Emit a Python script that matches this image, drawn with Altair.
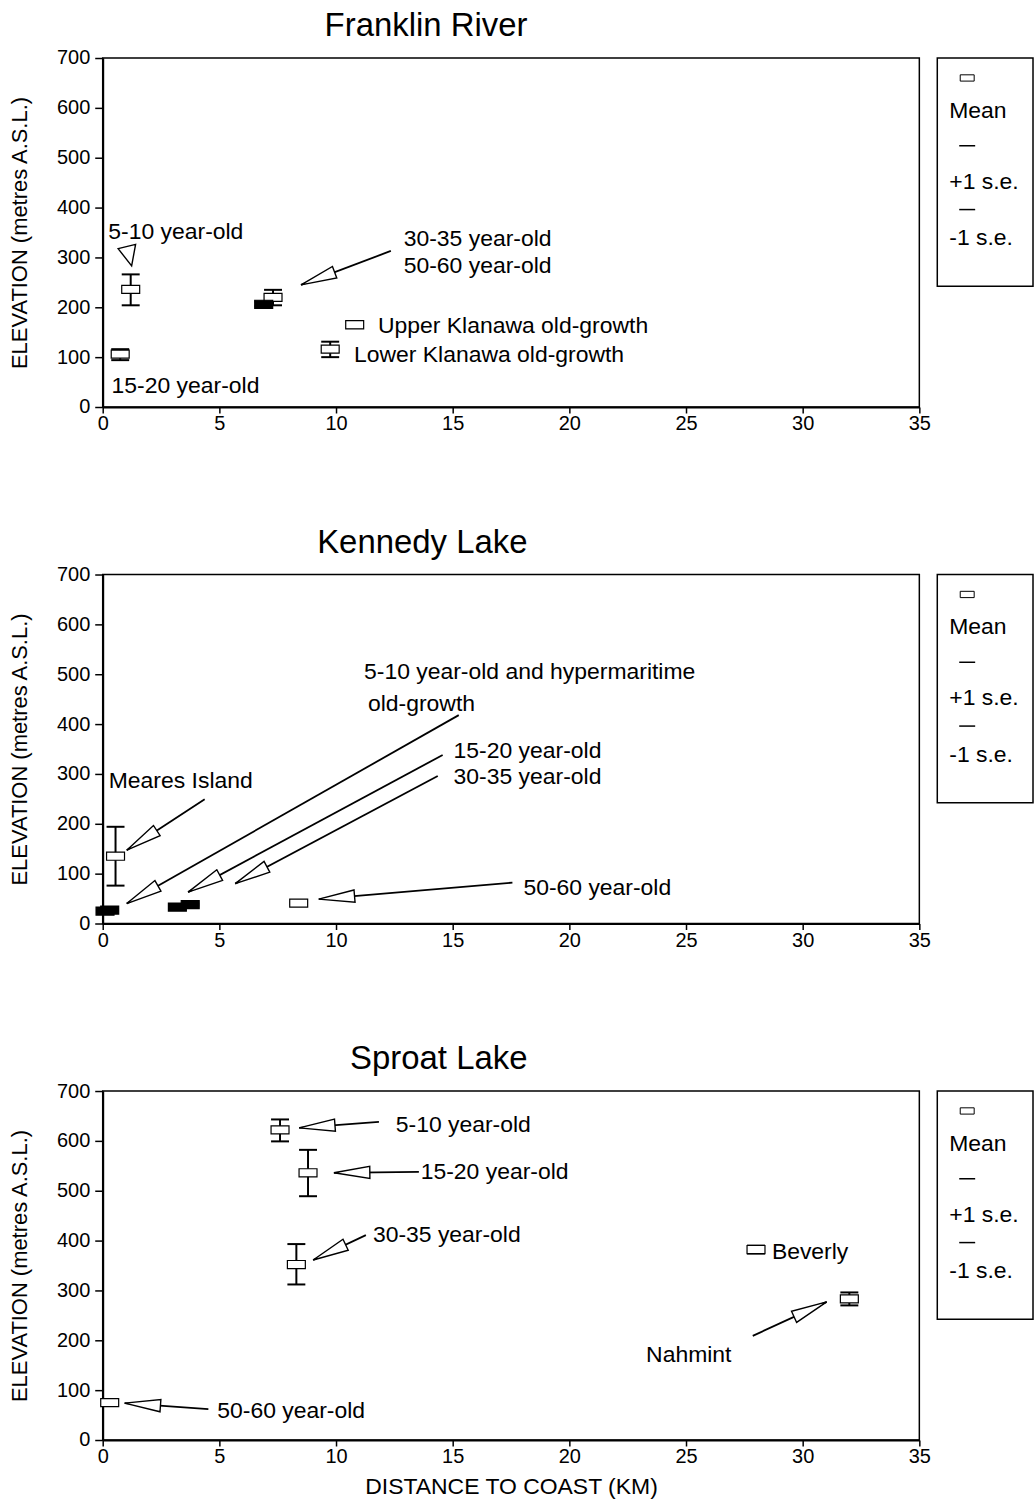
import math
import altair as alt
import pandas as pd

FONT = "Liberation Sans"
PLOT_W, PLOT_H = 819, 350
X_MAX, Y_MAX = 35, 700

x_ticks = [0, 5, 10, 15, 20, 25, 30, 35]
y_ticks = [0, 100, 200, 300, 400, 500, 600, 700]
legend_labels = ["Mean", "+1 s.e.", "-1 s.e."]

# ---------------- Franklin River ----------------
fr_site = ["5-10 year-old", "15-20 year-old", "30-35 year-old", "50-60 year-old",
           "Upper Klanawa old-growth", "Lower Klanawa old-growth"]
fr_dist = [1.2, 0.75, 7.3, 6.9, 10.8, 9.75]
fr_mean = [236, 106, 220, 206, 165, 116]
fr_lo = [204, 94, 204, 202, 159, 100]
fr_hi = [266, 116, 235, 211, 171, 131]
fr_solid = [False, False, False, True, False, False]

fr_text = ["5-10 year-old", "15-20 year-old", "30-35 year-old", "50-60 year-old",
           "Upper Klanawa old-growth", "Lower Klanawa old-growth"]
fr_text_x = [0.24, 0.38, 12.9, 12.9, 11.8, 10.77]
fr_text_y = [351, 42, 337, 283, 163, 105]

fr_arrow_from_x = [12.35]
fr_arrow_from_y = [313]
fr_arrow_to_x = [8.5]
fr_arrow_to_y = [245]

fr_pointer_from_x = [1.03]
fr_pointer_from_y = [323]
fr_pointer_to_x = [1.24]
fr_pointer_to_y = [283]

# ---------------- Kennedy Lake ----------------
kl_site = ["Meares Island", "hypermaritime old-growth", "5-10 year-old",
           "15-20 year-old", "30-35 year-old", "50-60 year-old"]
kl_dist = [0.55, 0.1, 0.3, 3.2, 3.75, 8.4]
kl_mean = [135, 25, 27, 33, 38, 41]
kl_lo = [76, 23, 25, 31, 36, 39]
kl_hi = [194, 27, 29, 35, 40, 43]
kl_solid = [False, True, True, True, True, False]

kl_text = ["5-10 year-old and hypermaritime", "old-growth", "15-20 year-old",
           "30-35 year-old", "Meares Island", "50-60 year-old"]
kl_text_x = [11.2, 11.37, 15.04, 15.04, 0.26, 18.03]
kl_text_y = [504, 440, 346, 294, 286, 72]

kl_arrow_from_x = [4.37, 15.26, 14.57, 14.36, 17.56]
kl_arrow_from_y = [249, 418, 338, 296, 82]
kl_arrow_to_x = [1.03, 1.03, 3.66, 5.68, 9.26]
kl_arrow_to_y = [147, 40, 63, 80, 49]

# ---------------- Sproat Lake ----------------
sl_site = ["5-10 year-old", "15-20 year-old", "30-35 year-old", "50-60 year-old",
           "Beverly", "Nahmint"]
sl_dist = [7.6, 8.8, 8.3, 0.3, 28.0, 32.0]
sl_mean = [622, 536, 352, 75, 382, 283]
sl_lo = [599, 489, 312, 70, 374, 270]
sl_hi = [643, 582, 393, 80, 390, 296]
sl_solid = [False, False, False, False, False, False]

sl_text = ["5-10 year-old", "15-20 year-old", "30-35 year-old", "Beverly",
           "Nahmint", "50-60 year-old"]
sl_text_x = [12.56, 13.63, 11.58, 28.68, 23.29, 4.91]
sl_text_y = [632, 538, 411, 378, 170, 58]

sl_arrow_from_x = [11.84, 13.55, 11.28, 27.86, 4.53]
sl_arrow_from_y = [638, 538, 411, 209, 62]
sl_arrow_to_x = [8.42, 9.91, 9.02, 31.03, 0.94]
sl_arrow_to_y = [626, 536, 361, 277, 74]

# ---------------- helpers ----------------
BOX = "M-1,-0.45H1V0.45H-1Z"
HEAD = "M0,0L-0.17,1L0.17,1Z"
POINTER = "M0,0L-0.45,1L0.45,1Z"

XSCALE = alt.Scale(domain=[0, X_MAX], nice=False, zero=False)
YSCALE = alt.Scale(domain=[0, Y_MAX], nice=False, zero=False)


def x_axis(title):
    kw = dict(values=x_ticks, labelFlush=False, labelOverlap=False, tickSize=6,
              labelFontSize=20, labelPadding=1, titleFontSize=23, titlePadding=9)
    if title:
        return alt.Axis(title=title, **kw)
    return alt.Axis(title=None, **kw)


Y_AXIS = alt.Axis(title="ELEVATION (metres A.S.L.)", values=y_ticks, tickSize=8,
                  labelFontSize=20, labelPadding=5, titleFontSize=22, titlePadding=25,
                  labelOverlap=False)


def head_angle(fx, fy, tx, ty):
    dx = (tx - fx) * PLOT_W / X_MAX
    dy = (ty - fy) * PLOT_H / Y_MAX
    return math.degrees(math.atan2(dx, dy)) % 360


def arrows_df(fx, fy, tx, ty):
    df = pd.DataFrame({"fx": fx, "fy": fy, "tx": tx, "ty": ty})
    df["ang"] = [head_angle(a, b, c, d) for a, b, c, d in zip(fx, fy, tx, ty)]
    return df


def panel(title, site, dist, mean, lo, hi, solid, text, tx, ty,
          afx, afy, atx, aty, x_title=None, pointer=None):
    xa = x_axis(x_title)

    def X(f):
        return alt.X(f"{f}:Q", scale=XSCALE, axis=xa)

    def Y(f):
        return alt.Y(f"{f}:Q", scale=YSCALE, axis=Y_AXIS)

    pts = pd.DataFrame({"site": site, "dist": dist, "mean": mean, "lo": lo,
                        "hi": hi, "solid": solid})
    base = alt.Chart(pts)
    bars = base.mark_rule(color="black", strokeWidth=2).encode(
        x=X("dist"), y=Y("lo"), y2="hi")
    cap_lo = base.mark_tick(orient="horizontal", size=18, thickness=2,
                            color="black", opacity=1).encode(x=X("dist"), y=Y("lo"))
    cap_hi = base.mark_tick(orient="horizontal", size=18, thickness=2,
                            color="black", opacity=1).encode(x=X("dist"), y=Y("hi"))
    means = base.mark_point(shape=BOX, size=324, filled=True, stroke="black",
                            strokeWidth=1.2, opacity=1).encode(
        x=X("dist"), y=Y("mean"),
        fill=alt.condition("datum.solid", alt.value("black"), alt.value("white")))

    adf = arrows_df(afx, afy, atx, aty)
    ach = alt.Chart(adf)
    shafts = ach.mark_rule(color="black", strokeWidth=1.8).encode(
        x=X("fx"), y=Y("fy"), x2="tx", y2="ty")
    heads = ach.mark_point(shape=HEAD, size=5184, filled=True, fill="white",
                           stroke="black", strokeWidth=1.4, opacity=1).encode(
        x=X("tx"), y=Y("ty"), angle=alt.Angle("ang:Q", scale=None))

    labels = alt.Chart(pd.DataFrame({"t": text, "x": tx, "y": ty})).mark_text(
        align="left", baseline="middle", font=FONT, fontSize=23, color="black").encode(
        x=X("x"), y=Y("y"), text="t:N")

    layers = [bars, cap_lo, cap_hi, means, shafts, heads, labels]

    if pointer is not None:
        pdf = arrows_df(*pointer)
        layers.append(alt.Chart(pdf).mark_point(
            shape=POINTER, size=1600, filled=True, fill="white", stroke="black",
            strokeWidth=1.4, opacity=1).encode(
            x=X("tx"), y=Y("ty"), angle=alt.Angle("ang:Q", scale=None)))

    # legend box drawn at the right of the plot
    one = pd.DataFrame({"k": [0]})
    layers.append(alt.Chart(one).mark_rect(fill="white", stroke="black", strokeWidth=1.5).encode(
        x=alt.value(837), x2=alt.value(933), y=alt.value(0), y2=alt.value(229)))
    layers.append(alt.Chart(one).mark_point(shape=BOX, size=196, filled=True, fill="white",
                                            stroke="black", strokeWidth=1, opacity=1).encode(
        x=alt.value(867), y=alt.value(20)))
    for yy in (88, 152):
        layers.append(alt.Chart(one).mark_rule(color="black", strokeWidth=1.5).encode(
            x=alt.value(859), x2=alt.value(875), y=alt.value(yy)))
    for lab, yy in zip(legend_labels, (53, 124, 181)):
        layers.append(alt.Chart(pd.DataFrame({"label": [lab]})).mark_text(
            align="left", baseline="middle", font=FONT, fontSize=23, color="black").encode(
            x=alt.value(849), y=alt.value(yy), text="label:N"))

    return alt.layer(*layers).properties(
        width=PLOT_W, height=PLOT_H,
        title=alt.TitleParams(text=title, anchor="end", frame="group", dx=-393,
                              offset=5, fontSize=33, font=FONT, fontWeight="normal",
                              color="black"))


p1 = panel("Franklin River", fr_site, fr_dist, fr_mean, fr_lo, fr_hi, fr_solid,
           fr_text, fr_text_x, fr_text_y,
           fr_arrow_from_x, fr_arrow_from_y, fr_arrow_to_x, fr_arrow_to_y,
           pointer=(fr_pointer_from_x, fr_pointer_from_y, fr_pointer_to_x, fr_pointer_to_y))
p2 = panel("Kennedy Lake", kl_site, kl_dist, kl_mean, kl_lo, kl_hi, kl_solid,
           kl_text, kl_text_x, kl_text_y,
           kl_arrow_from_x, kl_arrow_from_y, kl_arrow_to_x, kl_arrow_to_y)
p3 = panel("Sproat Lake", sl_site, sl_dist, sl_mean, sl_lo, sl_hi, sl_solid,
           sl_text, sl_text_x, sl_text_y,
           sl_arrow_from_x, sl_arrow_from_y, sl_arrow_to_x, sl_arrow_to_y,
           x_title="DISTANCE TO COAST (KM)")

chart = alt.vconcat(p1, p2, p3, spacing=91).properties(
    padding={"left": 7, "top": 7, "right": 1, "bottom": 5},
    background="white",
).configure_view(
    stroke="black", strokeWidth=1.5
).configure_axis(
    domainColor="black", domainWidth=2, tickColor="black", tickWidth=1.5,
    labelFont=FONT, labelColor="black", titleFont=FONT, titleColor="black",
    titleFontWeight="normal", grid=False
)

chart.save("out.html", embed_options={"renderer": "svg", "actions": False})
